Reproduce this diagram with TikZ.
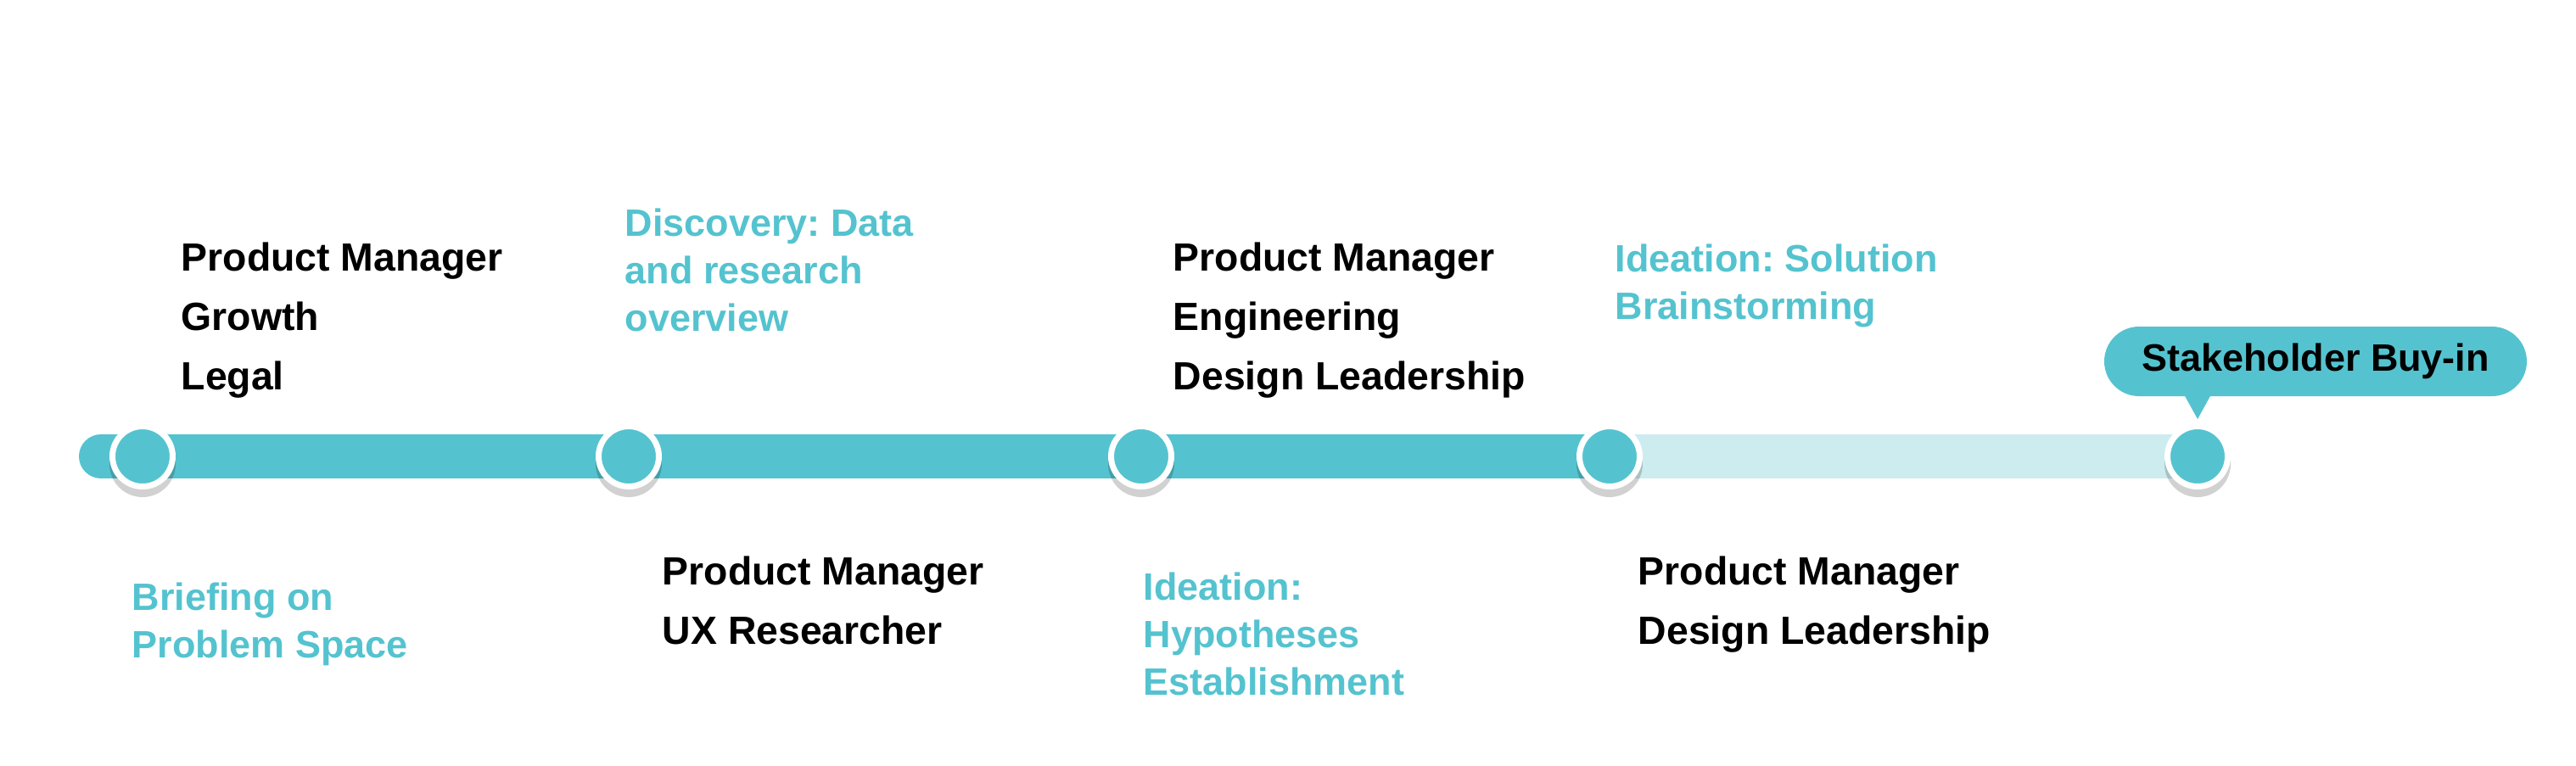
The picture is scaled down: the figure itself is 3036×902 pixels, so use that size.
\documentclass[tikz,border=0pt]{standalone}
\usepackage{fontspec}
\setmainfont{Liberation Sans}
\frenchspacing
\usepackage{tikz}
\usetikzlibrary{calc,backgrounds}
\definecolor{Teal}{HTML}{54C3CF}
\definecolor{SoftTeal}{HTML}{CDECEF}

\begin{document}
\begin{tikzpicture}[x=0.1mm,y=-0.1mm,
    marker/.style={circle,fill=Teal,draw=white,line width=0.7mm,minimum size=7.1mm,inner sep=0pt},
    shade/.style={circle,fill=black,opacity=0.18,minimum size=7.8mm,inner sep=0pt},
    role/.style={anchor=base west,inner sep=0pt,align=left,font=\fontsize{13.2}{19.9}\selectfont\bfseries},
    phase/.style={anchor=base west,inner sep=0pt,align=left,text=Teal,font=\fontsize{12.8}{15.9}\selectfont\bfseries},
    bar/.style={line width=5.2mm,draw=Teal},
    callout/.style={fill=Teal,rounded corners=4.1mm,minimum width=49.8mm,minimum height=8.2mm,inner sep=0pt,font=\fontsize{12.8}{15}\selectfont\bfseries}
]
\useasboundingbox (0,0) rectangle (3036,902);
\node[anchor=base west,inner sep=0pt,text=white,font=\fontsize{22.4}{26}\selectfont] (title) at (46,143) {Touchpoints};

% timeline markers
\coordinate (start) at (119,538);
\foreach \n/\x in {m1/168,m2/741,m3/1345,m4/1897,m5/2590}{
  \node[shade] at (\x,547) {};
  \node[marker] (\n) at (\x,538) {};
}
\begin{scope}[on background layer]
\draw[bar,line cap=round] (start) -- (m1.center);
\foreach \a/\b in {m1/m2,m2/m3,m3/m4}{\draw[bar] (\a.center) -- (\b.center);}
\draw[bar,draw=SoftTeal] (m4.center) -- (m5.center);
\end{scope}

% end callout
\node[callout] (buyin) at (2729,426) {Stakeholder Buy-in};
\fill[Teal] ([xshift=-2mm,yshift=1mm]m5.center |- buyin.south) -- ([xshift=2mm,yshift=1mm]m5.center |- buyin.south) -- ([yshift=0.5mm]m5.north) -- cycle;

% phases and people (base = last line)
\node[role] (team1) at (213,459) {Product Manager\\Growth\\Legal};
\node[phase] (disc) at (736,390) {Discovery: Data\\and research\\overview};
\node[role] (team3) at (1382,459) {Product Manager\\Engineering\\Design Leadership};
\node[phase] (ideasol) at (1903,376) {Ideation: Solution\\Brainstorming};
\node[phase] (brief) at (155,775) {Briefing on\\Problem Space};
\node[role] (team2) at (780,759) {Product Manager\\UX Researcher};
\node[phase] (ideahyp) at (1347,819) {Ideation:\\Hypotheses\\Establishment};
\node[role] (team4) at (1930,759) {Product Manager\\Design Leadership};
\end{tikzpicture}
\end{document}
